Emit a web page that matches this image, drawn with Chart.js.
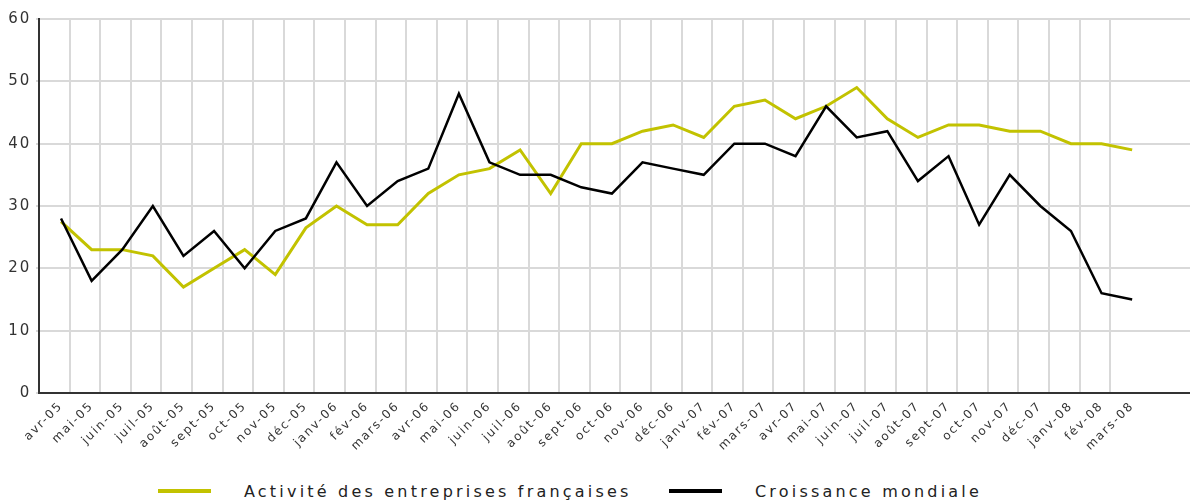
<!DOCTYPE html>
<html lang="fr">
<head>
<meta charset="utf-8">
<title>Activité des entreprises françaises et croissance mondiale</title>
<script src="https://cdn.jsdelivr.net/npm/chart.js@4.4.1/dist/chart.umd.min.js"></script>
<style>
  body { margin: 0; background: #fff; }
  #wrap { position: relative; width: 1190px; height: 501px; overflow: hidden; }
  .item { position: absolute; top: 481px; height: 20px; display: flex; align-items: center;
          font: 16px 'DejaVu Sans', sans-serif; letter-spacing: 3.2px; color: #222; white-space: nowrap; }
  .swatch { display: inline-block; width: 53px; height: 4px; margin-right: 33px; }
</style>
</head>
<body>
<div id="wrap">
  <canvas id="chart" width="1190" height="470"></canvas>
  <div class="item" style="left:158px"><span class="swatch" style="background:#c2c200"></span>Activité des entreprises françaises</div>
  <div class="item" style="left:669px"><span class="swatch" style="background:#000"></span>Croissance mondiale</div>
</div>
<script>
// months, avr-05 .. mars-08
const mois = [
  'avr-05', 'mai-05', 'juin-05', 'juil-05', 'août-05', 'sept-05', 'oct-05', 'nov-05', 'déc-05',
  'janv-06', 'fév-06', 'mars-06', 'avr-06', 'mai-06', 'juin-06', 'juil-06', 'août-06', 'sept-06',
  'oct-06', 'nov-06', 'déc-06', 'janv-07', 'fév-07', 'mars-07', 'avr-07', 'mai-07', 'juin-07',
  'juil-07', 'août-07', 'sept-07', 'oct-07', 'nov-07', 'déc-07', 'janv-08', 'fév-08', 'mars-08'
];

const activite = [
  27.5, 23, 23, 22, 17, 20, 23, 19, 26.5,
  30, 27, 27, 32, 35, 36, 39, 32, 40,
  40, 42, 43, 41, 46, 47, 44, 46, 49,
  44, 41, 43, 43, 42, 42, 40, 40, 39
];

const croissance = [
  28, 18, 23, 30, 22, 26, 20, 26, 28,
  37, 30, 34, 36, 48, 37, 35, 35, 33,
  32, 37, 36, 35, 40, 40, 38, 46, 41,
  42, 34, 38, 27, 35, 30, 26, 16, 15
];

const yTicks = [0, 10, 20, 30, 40, 50, 60];

const FONT = "'DejaVu Sans', sans-serif";
// x range: grid lines fall between months, points sit a bit right of each line
const X_MIN = -0.72;
const X_MAX = 36.89;

const toPoints = arr => arr.map((v, i) => ({ x: i, y: v }));

// spaced-out lettering like the original rendering
const spacing = {
  id: 'spacing',
  beforeUpdate(chart) { chart.ctx.letterSpacing = '1.8px'; },
  beforeDraw(chart) { chart.ctx.letterSpacing = '1.8px'; }
};

new Chart(document.getElementById('chart'), {
  type: 'line',
  data: {
    datasets: [
      {
        label: 'Activité des entreprises françaises',
        data: toPoints(activite),
        borderColor: '#c2c200',
        borderWidth: 3,
        pointRadius: 0,
        tension: 0,
        order: 1
      },
      {
        label: 'Croissance mondiale',
        data: toPoints(croissance),
        borderColor: '#000',
        borderWidth: 2.5,
        pointRadius: 0,
        tension: 0,
        order: 0
      }
    ]
  },
  options: {
    responsive: false,
    animation: false,
    layout: { padding: { top: 19, left: 0, right: 0, bottom: 0 } },
    plugins: {
      legend: { display: false },
      tooltip: { enabled: false }
    },
    scales: {
      x: {
        type: 'linear',
        min: X_MIN,
        max: X_MAX,
        afterBuildTicks: axis => {
          axis.ticks = mois.map((_, i) => ({ value: X_MIN + i }));
        },
        afterFit: axis => {
          axis.height = 77;
          // rotated labels would otherwise push the plot area right
          axis.paddingLeft = 0;
          axis.paddingRight = 0;
        },
        grid: { color: '#d9d9d9', lineWidth: 2, drawTicks: false },
        border: { color: '#333', width: 2 },
        ticks: {
          autoSkip: false,
          minRotation: 45,
          maxRotation: 45,
          labelOffset: 22,
          padding: 6,
          color: '#333',
          font: { family: FONT, size: 12 },
          callback: (value, index) => mois[index]
        }
      },
      y: {
        min: 0,
        max: 60,
        afterBuildTicks: axis => {
          axis.ticks = yTicks.map(v => ({ value: v }));
        },
        afterFit: axis => { axis.width = 39; },
        grid: { color: '#d9d9d9', lineWidth: 2, tickLength: 3 },
        border: { color: '#333', width: 2 },
        ticks: {
          padding: 5,
          color: '#333',
          font: { family: FONT, size: 15 }
        }
      }
    }
  },
  plugins: [spacing]
});
</script>
</body>
</html>
